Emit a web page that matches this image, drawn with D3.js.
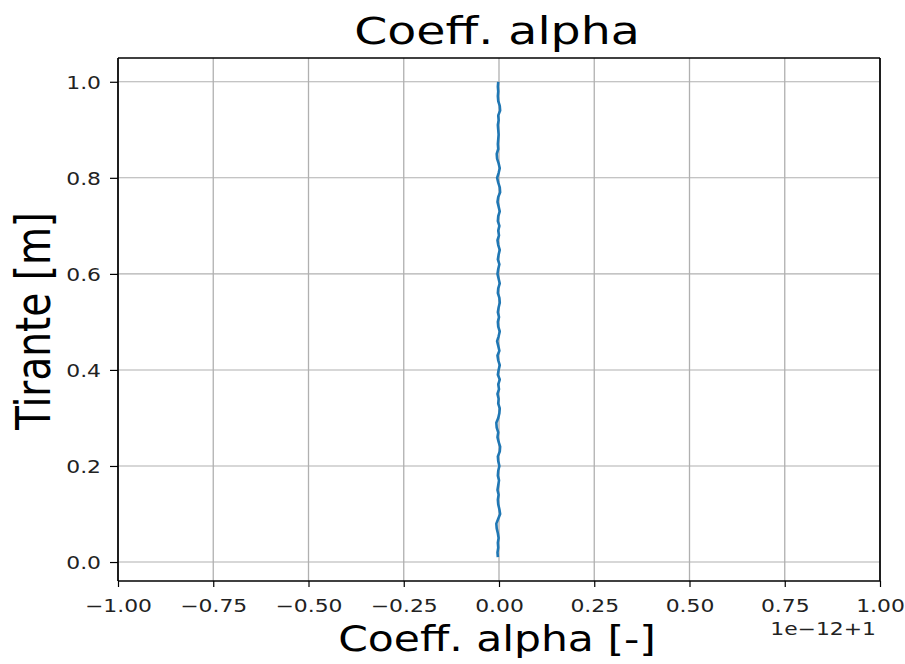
<!DOCTYPE html>
<html>
<head>
<meta charset="utf-8">
<script src="https://cdn.jsdelivr.net/npm/d3@7"></script>
<style>
  html, body { margin: 0; padding: 0; background: #ffffff; }
  svg { display: block; font-family: "DejaVu Sans", sans-serif; }
</style>
</head>
<body>
<svg id="chart" width="905" height="664"></svg>
<script>
// Water depth (m) of each computed section, bottom to top
const depth = [
  0.01, 0.02, 0.03, 0.04, 0.05, 0.06, 0.07, 0.08, 0.09, 0.10,
  0.11, 0.12, 0.13, 0.14, 0.15, 0.16, 0.17, 0.18, 0.19, 0.20,
  0.21, 0.22, 0.23, 0.24, 0.25, 0.26, 0.27, 0.28, 0.29, 0.30,
  0.31, 0.32, 0.33, 0.34, 0.35, 0.36, 0.37, 0.38, 0.39, 0.40,
  0.41, 0.42, 0.43, 0.44, 0.45, 0.46, 0.47, 0.48, 0.49, 0.50,
  0.51, 0.52, 0.53, 0.54, 0.55, 0.56, 0.57, 0.58, 0.59, 0.60,
  0.61, 0.62, 0.63, 0.64, 0.65, 0.66, 0.67, 0.68, 0.69, 0.70,
  0.71, 0.72, 0.73, 0.74, 0.75, 0.76, 0.77, 0.78, 0.79, 0.80,
  0.81, 0.82, 0.83, 0.84, 0.85, 0.86, 0.87, 0.88, 0.89, 0.90,
  0.91, 0.92, 0.93, 0.94, 0.95, 0.96, 0.97, 0.98, 0.99, 1.00
];

// Coriolis coefficient alpha, stored as deviation from 1 in units of 1e-12
const alphaDeviation = [
  -0.003, -0.004, -0.002, -0.003, -0.001, -0.003, -0.006, -0.007, -0.002, 0.003,
   0.001, -0.002, -0.003, -0.001, -0.004, -0.002, 0.000, -0.003, -0.002, 0.001,
  -0.002, -0.003, 0.002, 0.003, -0.001, -0.004, -0.002, -0.006, -0.007, -0.002,
   0.001, 0.002, -0.002, -0.001, -0.004, 0.000, -0.002, 0.002, -0.003, -0.001,
   0.002, -0.002, -0.004, 0.001, -0.002, -0.005, -0.001, 0.002, -0.002, -0.003,
   0.000, -0.003, -0.001, 0.002, 0.001, -0.003, -0.002, 0.002, -0.001, -0.004,
  -0.002, 0.001, -0.003, -0.001, 0.002, -0.002, -0.004, 0.000, -0.002, 0.001,
  -0.003, -0.002, 0.002, -0.001, -0.004, -0.002, 0.003, 0.002, -0.002, -0.005,
  -0.001, 0.002, -0.001, -0.005, -0.006, -0.002, -0.003, -0.002, -0.001, -0.002,
  -0.003, -0.001, -0.002, 0.003, 0.002, -0.002, -0.003, -0.002, -0.003, -0.002
];

const xTicks = [-1.00, -0.75, -0.50, -0.25, 0.00, 0.25, 0.50, 0.75, 1.00];
const yTicks = [0.0, 0.2, 0.4, 0.6, 0.8, 1.0];
const offsetLabel = "1e\u221212+1";

const titleText = "Coeff. alpha";
const xLabelText = "Coeff. alpha [-]";
const yLabelText = "Tirante [m]";

// Plot frame
const plotLeft = 118, plotRight = 880, plotTop = 58, plotBottom = 581;
const textStretch = 1.25;

const svg = d3.select("#chart");

const x = d3.scaleLinear().domain([-1, 1]).range([plotLeft, plotRight]);
const yMin = d3.min(depth), yMax = d3.max(depth);
const yPad = (yMax - yMin) * 0.05;
const y = d3.scaleLinear().domain([yMin - yPad, yMax + yPad]).range([plotBottom, plotTop]);

const minus = s => s.replace("-", "\u2212");

// Grid
const grid = svg.append("g").attr("class", "grid");
grid.selectAll("line.vx").data(xTicks).join("line")
  .attr("class", "vx")
  .attr("x1", d => x(d)).attr("x2", d => x(d))
  .attr("y1", plotTop).attr("y2", plotBottom)
  .attr("stroke", "#b0b0b0").attr("stroke-width", 1.3);
grid.selectAll("line.hy").data(yTicks).join("line")
  .attr("class", "hy")
  .attr("x1", plotLeft).attr("x2", plotRight)
  .attr("y1", d => y(d)).attr("y2", d => y(d))
  .attr("stroke", "#b0b0b0").attr("stroke-width", 1.1);

// Profile line
const line = d3.line()
  .x((d, i) => x(alphaDeviation[i]))
  .y(d => y(d));
svg.append("path")
  .datum(depth)
  .attr("fill", "none")
  .attr("stroke", "#1f77b4")
  .attr("stroke-width", 2.6)
  .attr("stroke-linejoin", "round")
  .attr("d", line);

// Axes
const xAxis = d3.axisBottom(x).tickValues(xTicks)
  .tickFormat(d => minus(d3.format(".2f")(d))).tickSizeOuter(0).tickSize(6).tickPadding(5);
const yAxis = d3.axisLeft(y).tickValues(yTicks)
  .tickFormat(d => minus(d3.format(".1f")(d))).tickSizeOuter(0).tickSize(8).tickPadding(8);

const gx = svg.append("g").attr("transform", `translate(0,${plotBottom})`).call(xAxis);
const gy = svg.append("g").attr("transform", `translate(${plotLeft},0)`).call(yAxis);

[gx, gy].forEach(g => {
  g.select(".domain").remove();
  g.selectAll(".tick line").attr("stroke", "#000").attr("stroke-width", 1.2);
  g.selectAll(".tick text")
    .attr("fill", "#222")
    .style("font-family", "DejaVu Sans")
    .style("font-size", "17.5px");
});
gx.selectAll(".tick text")
  .attr("y", 0).attr("dy", 0)
  .attr("transform", `translate(0,31) scale(${textStretch},1)`);
gy.selectAll(".tick text")
  .attr("x", 0).attr("dy", 0)
  .attr("transform", `translate(-17,6.3) scale(${textStretch},1)`);

// Frame
const frame = svg.append("g").attr("stroke", "#000");
frame.append("line").attr("x1", plotLeft).attr("x2", plotRight).attr("y1", plotTop).attr("y2", plotTop).attr("stroke-width", 1.3);
frame.append("line").attr("x1", plotLeft).attr("x2", plotRight).attr("y1", plotBottom).attr("y2", plotBottom).attr("stroke-width", 1.3);
frame.append("line").attr("x1", plotLeft).attr("x2", plotLeft).attr("y1", plotTop).attr("y2", plotBottom).attr("stroke-width", 1.7);
frame.append("line").attr("x1", plotRight).attr("x2", plotRight).attr("y1", plotTop).attr("y2", plotBottom).attr("stroke-width", 1.7);

// Offset notation
svg.append("text")
  .attr("transform", `translate(876,635) scale(${textStretch},1)`)
  .attr("text-anchor", "end")
  .attr("fill", "#222")
  .style("font-size", "17.5px")
  .text(offsetLabel);

// Title
svg.append("text")
  .attr("transform", "translate(497,44) scale(1.30,1)")
  .attr("text-anchor", "middle")
  .attr("fill", "#000")
  .style("font-size", "36.5px")
  .text(titleText);

// Axis labels
svg.append("text")
  .attr("transform", "translate(497,651) scale(1.18,1)")
  .attr("text-anchor", "middle")
  .attr("fill", "#000")
  .style("font-size", "36px")
  .text(xLabelText);

svg.append("text")
  .attr("transform", `translate(50,321) scale(1.23,1) rotate(-90)`)
  .attr("text-anchor", "middle")
  .attr("fill", "#000")
  .style("font-size", "39px")
  .text(yLabelText);
</script>
</body>
</html>
